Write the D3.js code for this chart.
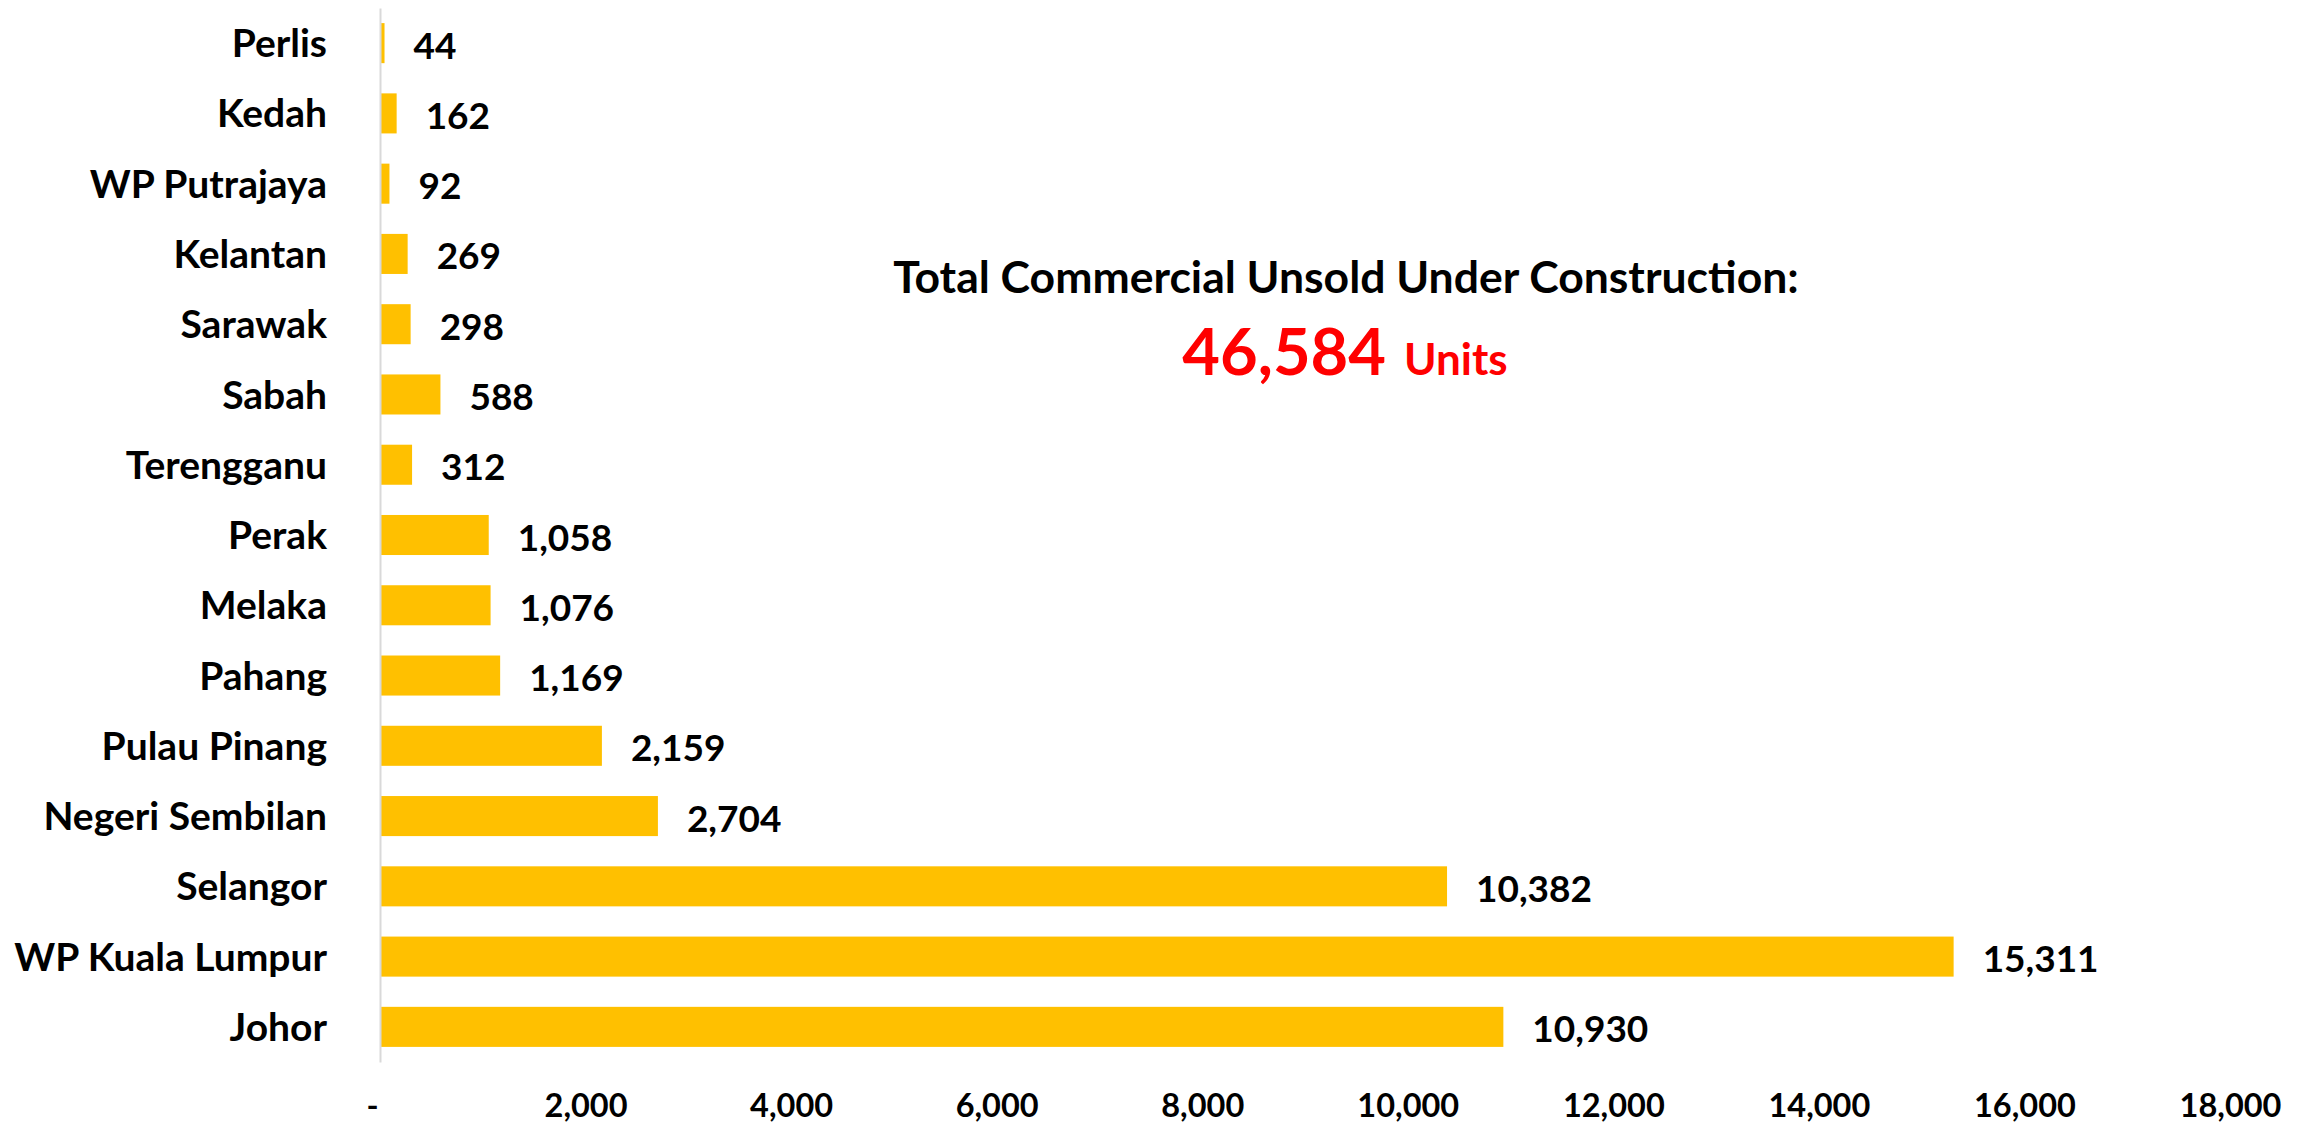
<!DOCTYPE html>
<html>
<head>
<meta charset="utf-8">
<script src="https://cdn.jsdelivr.net/npm/d3@7"></script>
<style>
    body { margin: 0; background: #fff; }
    text { font-family: Lato, "Open Sans", sans-serif; font-weight: bold; fill: #000; }
</style>
</head>
<body>
<div id="chart-container"></div>
<script>
var states = ["Perlis", "Kedah", "WP Putrajaya", "Kelantan", "Sarawak", "Sabah", "Terengganu",
    "Perak", "Melaka", "Pahang", "Pulau Pinang", "Negeri Sembilan", "Selangor",
    "WP Kuala Lumpur", "Johor"];
var unsoldUnits = [44, 162, 92, 269, 298, 588, 312, 1058, 1076, 1169, 2159, 2704, 10382, 15311, 10930];
var xTicks = [0, 2000, 4000, 6000, 8000, 10000, 12000, 14000, 16000, 18000];
var totalLabel = "Total Commercial Unsold Under Construction:";
var totalUnits = 46584;

function drawChart() {
    var width = 2313;
    var height = 1129;
    var margin = { top: 8, right: 83, bottom: 67, left: 380 };

    var svg = d3.select("#chart-container")
        .append("svg")
        .attr("width", width)
        .attr("height", height);

    var x = d3.scaleLinear()
        .domain([0, 18000])
        .range([margin.left, width - margin.right]);

    var y = d3.scaleBand()
        .domain(states)
        .range([margin.top, height - margin.bottom])
        .paddingInner(0.43)
        .paddingOuter(0.215);

    var rows = states.map(function(s, i) { return { state: s, value: unsoldUnits[i] }; });

    // bars
    svg.append("g")
        .selectAll("rect")
        .data(rows)
        .enter()
        .append("rect")
        .attr("x", x(0))
        .attr("y", function(d) { return y(d.state); })
        .attr("width", function(d) { return x(d.value) - x(0); })
        .attr("height", y.bandwidth())
        .attr("fill", "#FFC000");

    // category axis
    var yAxis = svg.append("g")
        .attr("transform", "translate(" + x(0) + ",0)")
        .call(d3.axisLeft(y).tickSize(0).tickSizeOuter(0).tickPadding(53));
    yAxis.select(".domain")
        .attr("stroke", "#d9d9d9")
        .attr("stroke-width", 2);
    yAxis.selectAll("text")
        .attr("font-size", 39)
        .attr("dy", "0.36em")
        .attr("font-family", null)
        .attr("fill", "#000");

    // value axis, labels only
    var xAxis = svg.append("g")
        .attr("transform", "translate(0," + (height - margin.bottom) + ")")
        .call(d3.axisBottom(x)
            .tickValues(xTicks)
            .tickSize(0)
            .tickFormat(function(d) { return d === 0 ? "-\u00a0\u00a0" : d3.format(",")(d); }));
    xAxis.select(".domain").remove();
    xAxis.selectAll("text")
        .attr("font-size", 32.5)
        .attr("font-family", null)
        .attr("fill", "#000")
        .attr("dy", null)
        .attr("y", 55);

    // data labels
    svg.append("g")
        .selectAll("text")
        .data(rows)
        .enter()
        .append("text")
        .attr("x", function(d) { return x(d.value) + 29; })
        .attr("y", function(d) { return y(d.state) + y.bandwidth() / 2; })
        .attr("dy", "0.42em")
        .attr("font-size", 37)
        .text(function(d) { return d3.format(",")(d.value); });

    // total annotation
    svg.append("text")
        .attr("x", 1346)
        .attr("y", 293)
        .attr("text-anchor", "middle")
        .attr("font-size", 44.5)
        .text(totalLabel);

    var total = svg.append("text")
        .attr("x", 1345)
        .attr("y", 375)
        .attr("text-anchor", "middle")
        .style("fill", "#FF0000");
    total.append("tspan")
        .attr("font-size", 65)
        .style("fill", "#FF0000")
        .text(d3.format(",")(totalUnits));
    total.append("tspan")
        .attr("font-size", 44)
        .attr("dx", 18)
        .style("fill", "#FF0000")
        .text("Units");
}

drawChart();
</script>
</body>
</html>
